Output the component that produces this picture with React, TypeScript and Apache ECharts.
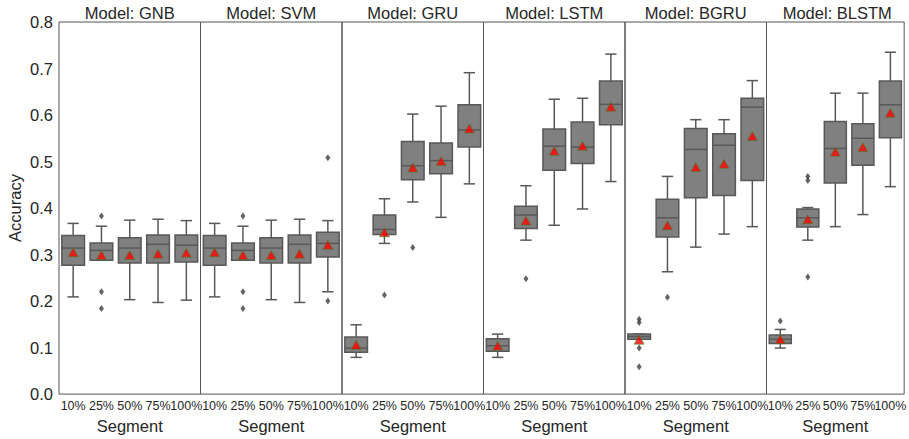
import React, { useEffect, useRef } from "react";
import * as echarts from "echarts";

const segments = ["10%", "25%", "50%", "75%", "100%"];
const models = ["GNB", "SVM", "GRU", "LSTM", "BGRU", "BLSTM"];
const yTicksMin = 0;
const yTicksMax = 0.8;

// [lower whisker, Q1, median, Q3, upper whisker] per segment
const gnbBoxes = [
  [0.209, 0.277, 0.314, 0.341, 0.367],
  [0.288, 0.288, 0.309, 0.325, 0.361],
  [0.203, 0.282, 0.314, 0.336, 0.374],
  [0.197, 0.282, 0.322, 0.342, 0.376],
  [0.202, 0.284, 0.320, 0.342, 0.373],
];
const gnbMeans = [0.305, 0.299, 0.299, 0.302, 0.304];
const gnbOutliers = [[1, 0.383], [1, 0.220], [1, 0.184]];

const svmBoxes = [
  [0.209, 0.277, 0.314, 0.341, 0.367],
  [0.288, 0.288, 0.309, 0.325, 0.361],
  [0.203, 0.282, 0.314, 0.336, 0.374],
  [0.197, 0.282, 0.322, 0.342, 0.376],
  [0.220, 0.295, 0.324, 0.348, 0.373],
];
const svmMeans = [0.305, 0.299, 0.299, 0.302, 0.321];
const svmOutliers = [[1, 0.383], [1, 0.220], [1, 0.184], [4, 0.508], [4, 0.200]];

const gruBoxes = [
  [0.079, 0.090, 0.099, 0.123, 0.149],
  [0.324, 0.343, 0.354, 0.385, 0.420],
  [0.413, 0.461, 0.491, 0.543, 0.602],
  [0.380, 0.474, 0.502, 0.540, 0.619],
  [0.452, 0.531, 0.568, 0.622, 0.691],
];
const gruMeans = [0.106, 0.348, 0.487, 0.501, 0.571];
const gruOutliers = [[1, 0.213], [2, 0.315]];

const lstmBoxes = [
  [0.079, 0.092, 0.104, 0.119, 0.129],
  [0.331, 0.356, 0.385, 0.404, 0.448],
  [0.363, 0.481, 0.533, 0.570, 0.634],
  [0.398, 0.496, 0.531, 0.585, 0.636],
  [0.457, 0.579, 0.623, 0.673, 0.731],
];
const lstmMeans = [0.104, 0.373, 0.523, 0.534, 0.618];
const lstmOutliers = [[1, 0.248]];

const bgruBoxes = [
  [0.118, 0.118, 0.124, 0.129, 0.129],
  [0.263, 0.338, 0.379, 0.419, 0.468],
  [0.316, 0.422, 0.526, 0.571, 0.590],
  [0.344, 0.427, 0.535, 0.560, 0.590],
  [0.360, 0.459, 0.617, 0.636, 0.674],
];
const bgruMeans = [0.117, 0.363, 0.488, 0.495, 0.555];
const bgruOutliers = [[0, 0.161], [0, 0.154], [0, 0.099], [0, 0.059], [1, 0.208]];

const blstmBoxes = [
  [0.099, 0.109, 0.118, 0.127, 0.139],
  [0.331, 0.359, 0.379, 0.398, 0.401],
  [0.360, 0.454, 0.528, 0.586, 0.647],
  [0.386, 0.492, 0.550, 0.581, 0.647],
  [0.446, 0.551, 0.622, 0.673, 0.735],
];
const blstmMeans = [0.118, 0.376, 0.521, 0.531, 0.605];
const blstmOutliers = [[0, 0.157], [1, 0.468], [1, 0.459], [1, 0.252]];

const allBoxes = [gnbBoxes, svmBoxes, gruBoxes, lstmBoxes, bgruBoxes, blstmBoxes];
const allMeans = [gnbMeans, svmMeans, gruMeans, lstmMeans, bgruMeans, blstmMeans];
const allOutliers = [gnbOutliers, svmOutliers, gruOutliers, lstmOutliers, bgruOutliers, blstmOutliers];

const FONT = "'Liberation Sans', Arial, sans-serif";
const TEXT = "#262626";
const EDGE = "#585858";
const FILL = "#808080";

export default function App() {
  const ref = useRef<HTMLDivElement>(null);

  useEffect(() => {
    if (!ref.current) return;
    const chart = echarts.init(ref.current, undefined, { renderer: "svg" });

    const left0 = 59;
    const pw = 141.5;
    const top = 22;
    const height = 375;

    const grids: any[] = [];
    const xAxes: any[] = [];
    const yAxes: any[] = [];
    const series: any[] = [];
    const graphics: any[] = [];

    models.forEach((m, i) => {
      const left = left0 + i * pw;
      grids.push({
        left,
        top,
        width: pw,
        height,
        show: true,
        borderColor: "#555555",
        borderWidth: 1,
        backgroundColor: "transparent",
      });
      xAxes.push({
        type: "category",
        gridIndex: i,
        data: segments,
        axisLine: { show: false },
        axisTick: { show: false },
        splitLine: { show: false },
        axisLabel: {
          fontSize: 12.5,
          fontFamily: FONT,
          color: TEXT,
          margin: 5,
          interval: 0,
        },
        name: "Segment",
        nameLocation: "middle",
        nameGap: 18,
        nameTextStyle: { fontSize: 16.5, fontFamily: FONT, color: TEXT },
      });
      yAxes.push({
        type: "value",
        gridIndex: i,
        min: yTicksMin,
        max: yTicksMax,
        interval: 0.1,
        axisLine: { show: false },
        axisTick: { show: false },
        splitLine: { show: false },
        axisLabel: {
          show: i === 0,
          fontSize: 16.5,
          fontFamily: FONT,
          color: TEXT,
          margin: 6,
          formatter: (v: number) => v.toFixed(1),
        },
        name: i === 0 ? "Accuracy" : "",
        nameLocation: "middle",
        nameGap: 36,
        nameTextStyle: { fontSize: 16.5, fontFamily: FONT, color: TEXT },
      });
      graphics.push({
        type: "text",
        x: left + pw / 2,
        y: 12.5,
        style: {
          text: "Model: " + m,
          fontSize: 16.5,
          fontFamily: FONT,
          fill: TEXT,
          align: "center",
          verticalAlign: "middle",
        },
      });

      series.push({
        type: "custom",
        xAxisIndex: i,
        yAxisIndex: i,
        z: 2,
        encode: { x: 0, y: [1, 2, 3, 4, 5] },
        data: allBoxes[i].map((b, k) => [k, ...b]),
        renderItem: (params: any, api: any) => {
          const x = api.value(0);
          const lo = api.coord([x, api.value(1)]);
          const q1 = api.coord([x, api.value(2)]);
          const med = api.coord([x, api.value(3)]);
          const q3 = api.coord([x, api.value(4)]);
          const hi = api.coord([x, api.value(5)]);
          const bw = api.size([1, 0])[0] * 0.8;
          const cx = lo[0];
          const st = { stroke: EDGE, lineWidth: 1.5, fill: null };
          return {
            type: "group",
            children: [
              { type: "line", shape: { x1: cx, y1: q3[1], x2: cx, y2: hi[1] }, style: st },
              { type: "line", shape: { x1: cx, y1: q1[1], x2: cx, y2: lo[1] }, style: st },
              { type: "line", shape: { x1: cx - bw / 4, y1: hi[1], x2: cx + bw / 4, y2: hi[1] }, style: st },
              { type: "line", shape: { x1: cx - bw / 4, y1: lo[1], x2: cx + bw / 4, y2: lo[1] }, style: st },
              {
                type: "rect",
                shape: { x: cx - bw / 2, y: q3[1], width: bw, height: q1[1] - q3[1] },
                style: { fill: FILL, stroke: EDGE, lineWidth: 1.5 },
              },
              { type: "line", shape: { x1: cx - bw / 2, y1: med[1], x2: cx + bw / 2, y2: med[1] }, style: st },
            ],
          };
        },
      });

      series.push({
        type: "scatter",
        xAxisIndex: i,
        yAxisIndex: i,
        z: 3,
        symbol: "diamond",
        symbolSize: [5, 7],
        itemStyle: { color: "#3d3d3d" },
        data: allOutliers[i],
      });

      series.push({
        type: "scatter",
        xAxisIndex: i,
        yAxisIndex: i,
        z: 4,
        symbol: "triangle",
        symbolSize: [10, 9],
        itemStyle: { color: "#ff0000", borderColor: "#2e8b2e", borderWidth: 0.7 },
        data: allMeans[i].map((v, k) => [k, v]),
      });
    });

    chart.setOption({
      animation: false,
      backgroundColor: "#ffffff",
      grid: grids,
      xAxis: xAxes,
      yAxis: yAxes,
      series,
      graphic: graphics,
    });

    return () => chart.dispose();
  }, []);

  return <div ref={ref} style={{ width: 909, height: 439, position: "absolute", left: 0, top: 0 }} />;
}
